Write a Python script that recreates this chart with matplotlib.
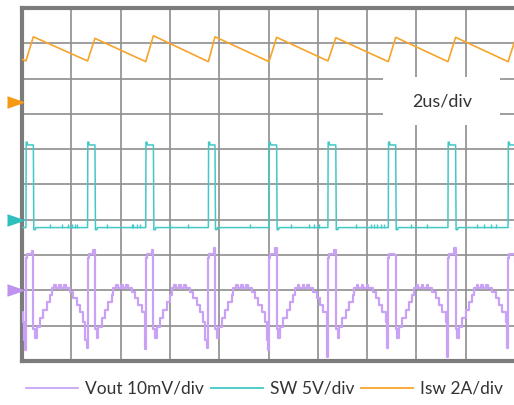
import matplotlib
matplotlib.use('Agg')
import matplotlib.pyplot as plt
from matplotlib.lines import Line2D
from matplotlib.patches import Rectangle

plt.rcParams['font.family'] = ['Lato', 'DejaVu Sans']

# switching edges (us); first one is just left of the screen
switch_on_us = [-2.30, 0.16, 2.66, 5.02, 7.56, 10.02, 12.41, 14.86, 17.28, 19.72]
switch_off_us = [-2.00, 0.46, 2.96, 5.33, 7.83, 10.33, 12.73, 15.16, 17.59, 20.04]

# Isw (A): valley at switch-on, peak at switch-off
isw_valley_a = [2.30, 2.30, 2.30, 2.26, 2.26, 2.26, 2.30, 2.26, 2.26, 2.26]
isw_peak_a = [3.66, 3.67, 3.58, 3.73, 3.67, 3.64, 3.62, 3.64, 3.64, 3.66]

# SW node (V)
sw_low_v = -1.1
sw_high_v = 10.6
sw_ring_v = 11.0
sw_glitch_us = [1.14, 1.61, 1.88, 2.02, 2.15, 2.24, 3.44, 4.45, 4.51, 4.65, 4.79,
                6.00, 6.75, 9.25, 10.90, 11.64, 11.85, 12.05, 13.54, 14.15, 14.28,
                14.41, 14.55, 14.69, 15.77, 16.44, 18.47, 18.74, 19.01, 19.21]

# Vout ripple (mV)
vout_valley_mv = [-16.3, -16.9, -16.3, -16.6, -16.3, -16.9, -18.8, -16.3, -18.8, -16.3]
vout_spike_mv = [11.2, 11.2, 11.4, 11.4, 12.0, 12.0, 11.4, 10.0, 12.0, 8.0]
vout_after_off_us = [0.00, 0.07, 0.14, 0.27, 0.41, 0.54, 0.68, 0.75, 0.85, 0.92,
                     1.05, 1.12, 1.25, 1.32, 1.49, 1.62, 1.76, 1.89, 2.03, 2.10]
vout_after_off_mv = [-11.0, -13.5, -10.3, -7.8, -5.5, -3.2, -1.3, 0.7, 1.5, 0.7,
                     1.5, 0.7, 1.5, 0.7, -0.4, -2.2, -4.1, -6.0, -8.9, -14.1]

# channel ground markers (div) and scales
isw_ref_div, isw_per_div = 7.35, 2.0
sw_ref_div, sw_per_div = 4.0, 5.0
vout_ref_div, vout_per_div = 2.0, 10.0

ORANGE = '#f7a42a'
CYAN = '#42c9c6'
PURPLE = '#c9a2f5'

fig = plt.figure(figsize=(5.14, 4.05), dpi=100)
ax = fig.add_axes([22 / 514, 44 / 405, 493 / 514, 353 / 405])
ax.set_xlim(0, 20)
ax.set_ylim(0, 10)
ax.set_xticks(range(0, 21, 2))
ax.set_yticks(range(0, 11))
ax.tick_params(length=0, labelbottom=False, labelleft=False)
ax.set_axisbelow(True)
ax.grid(True, color='#8e8e8e', lw=1.2)
for side in ['left', 'top', 'bottom']:
    ax.spines[side].set_color('#7c7c7c')
    ax.spines[side].set_linewidth(3)
ax.spines['right'].set_visible(False)

# Isw
t_isw, y_isw = [], []
for on, off, lo, hi in zip(switch_on_us, switch_off_us, isw_valley_a, isw_peak_a):
    t_isw += [on, off]
    y_isw += [isw_ref_div + lo / isw_per_div, isw_ref_div + hi / isw_per_div]
ax.plot(t_isw, y_isw, color=ORANGE, lw=1.2, zorder=3)

# SW
def sw(v):
    return sw_ref_div + v / sw_per_div

t_sw, y_sw = [-3.0], [sw(sw_low_v)]
for on, off in zip(switch_on_us, switch_off_us):
    t_sw += [on, on + 0.01, on + 0.05, on + 0.07, off, off + 0.02, off + 0.08, off + 0.1]
    y_sw += [sw(sw_low_v), sw(sw_ring_v), sw(sw_ring_v), sw(sw_high_v), sw(sw_high_v),
             sw(sw_low_v - 0.3), sw(sw_low_v - 0.3), sw(sw_low_v)]
t_sw.append(21)
y_sw.append(sw(sw_low_v))
ax.plot(t_sw, y_sw, color=CYAN, lw=1.1, zorder=3)
ax.vlines(sw_glitch_us, sw(sw_low_v), sw(sw_low_v + 0.5), color=CYAN, lw=1.0, zorder=3)

# Vout
def vo(mv):
    return vout_ref_div + mv / vout_per_div

t_vo, y_vo = [], []
n = len(switch_on_us)
for k in range(n):
    on, off = switch_on_us[k], switch_off_us[k]
    t_vo += [on - 0.04, on, on + 0.04, off - 0.06]
    y_vo += [vo(vout_valley_mv[k]), vo(9.2), vo(10.3), vo(vout_spike_mv[k])]
    nxt = switch_on_us[k + 1] if k + 1 < n else 23.0
    for dt, mv in zip(vout_after_off_us, vout_after_off_mv):
        if off + dt < nxt - 0.04:
            t_vo.append(off + dt)
            y_vo.append(vo(mv))
ax.plot(t_vo, y_vo, color=PURPLE, lw=1.6, drawstyle='steps-post', zorder=3)

# channel markers
tri = [(-1.45, 1), (1.45, 0), (-1.45, -1)]
for lvl, c in [(isw_ref_div, '#f59a12'), (sw_ref_div, '#2fbfbd'), (vout_ref_div, '#bf92f0')]:
    ax.plot([-0.29], [lvl], marker=tri, ms=11.5, color=c, clip_on=False, zorder=5)

# timebase label box
ax.add_patch(Rectangle((14.65, 6.69), 4.74, 1.36, facecolor='white', edgecolor='none', zorder=1))
ax.text(17.03, 7.35, '2us/div', ha='center', va='center', fontsize=13, color='#333333', zorder=2)

handles = [Line2D([], [], color=PURPLE, lw=1.3, label='Vout 10mV/div'),
           Line2D([], [], color=CYAN, lw=1.3, label='SW 5V/div'),
           Line2D([], [], color=ORANGE, lw=1.3, label='Isw 2A/div')]
fig.legend(handles=handles, loc='center left', bbox_to_anchor=(26 / 514, 16 / 405), ncol=3,
           frameon=False, fontsize=12.5, handlelength=3.0, handletextpad=0.4,
           columnspacing=0.4, borderpad=0, borderaxespad=0, labelcolor='#333333')

fig.savefig('out.png', dpi=100)
